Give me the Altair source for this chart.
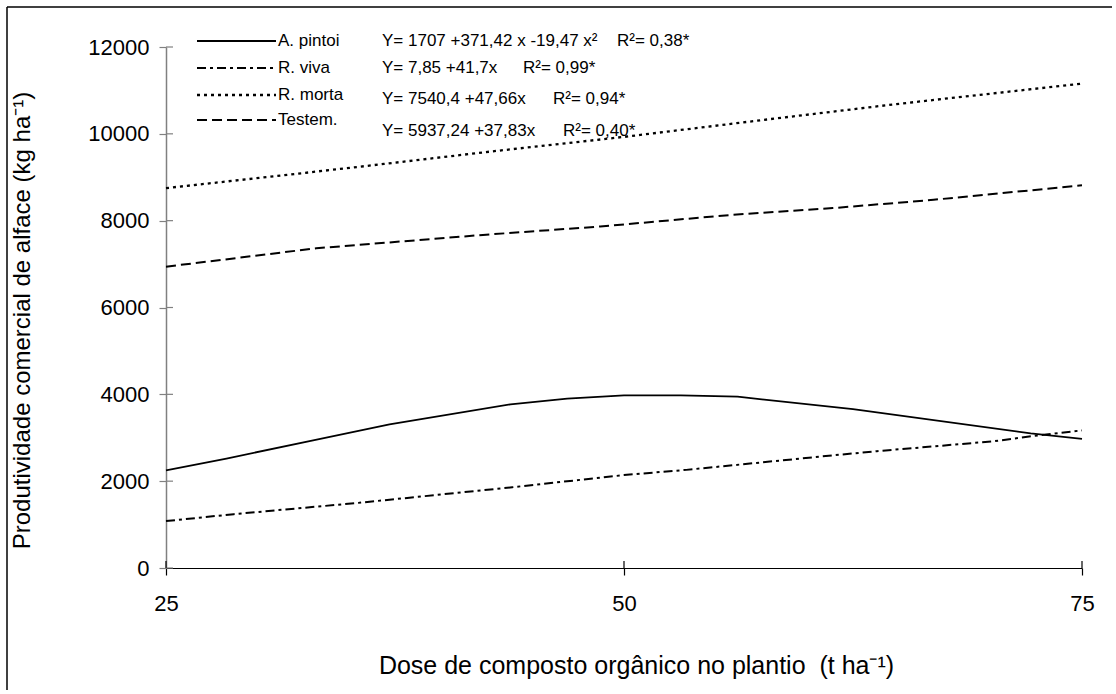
import altair as alt
import pandas as pd

# ---- data ----
dose_pintoi = [25, 28.3, 32.9, 37.2, 43.8, 46.9, 50, 53.1, 56.2, 62.5, 72.2, 75]
prod_pintoi = [2250, 2520, 2930, 3310, 3770, 3900, 3975, 3975, 3945, 3660, 3100, 2975]

dose_viva = [25, 28.7, 35.5, 39.7, 43.9, 50, 53.4, 60.8, 63.8, 70.2, 72.7, 75]
prod_viva = [1080, 1240, 1500, 1680, 1860, 2140, 2260, 2570, 2690, 2920, 3060, 3170]

dose_morta = [25, 31.4, 36.9, 42.4, 50, 57.8, 64.7, 70.5, 75]
prod_morta = [8750, 9045, 9306, 9577, 9930, 10330, 10677, 10948, 11156]

dose_testem = [25, 33.2, 42.3, 48.7, 55.9, 61.4, 66.9, 75]
prod_testem = [6940, 7364, 7672, 7866, 8134, 8289, 8481, 8814]

x_ticks = [25, 50, 75]
y_ticks = [0, 2000, 4000, 6000, 8000, 10000, 12000]

series_names = ["A. pintoi", "R. viva", "R. morta", "Testem."]
equations = ["Y= 1707 +371,42 x -19,47 x²", "Y= 7,85 +41,7x",
             "Y= 7540,4 +47,66x", "Y= 5937,24 +37,83x"]
r2_texts = ["R²= 0,38*", "R²= 0,99*", "R²= 0,94*", "R²= 0,40*"]

FONT = "Liberation Sans"
W, H = 916, 521

xs = alt.Scale(domain=[25, 75], nice=False, zero=False)
ys = alt.Scale(domain=[0, 12000], nice=False)

dashes = [None, [9, 4, 3, 4], [3, 4], [10, 5]]
widths = [1.8, 2.0, 2.3, 2.0]
series_data = [(dose_pintoi, prod_pintoi), (dose_viva, prod_viva),
               (dose_morta, prod_morta), (dose_testem, prod_testem)]

layers = []
for i, (dx, py) in enumerate(series_data):
    df = pd.DataFrame({"dose": dx, "prod": py})
    kw = dict(color="black", strokeWidth=widths[i], clip=False)
    if dashes[i]:
        kw["strokeDash"] = dashes[i]
    enc_x = alt.X("dose:Q", scale=xs)
    enc_y = alt.Y("prod:Q", scale=ys)
    if i == 0:
        enc_x = alt.X("dose:Q", scale=xs,
                      axis=alt.Axis(values=x_ticks, grid=False, domainColor="black",
                                    domainWidth=1.2, tickColor="black", tickSize=7,
                                    tickWidth=1.2, labelFont=FONT, labelFontSize=22,
                                    labelColor="black", labelPadding=18, labelFlush=False,
                                    labelOverlap=False,
                                    title="Dose de composto orgânico no plantio\u00a0 (t ha⁻¹)",
                                    titleFont=FONT, titleFontSize=25, titleFontWeight="normal",
                                    titleColor="black", titleX=470, titleY=97,
                                    titleBaseline="middle", titleAnchor="middle"))
        enc_y = alt.Y("prod:Q", scale=ys,
                      axis=alt.Axis(values=y_ticks, format="d", grid=False,
                                    domainColor="#808080", labelFlush=False,
                                    domainWidth=1.5, tickColor="#808080", tickSize=7,
                                    tickWidth=1.2, labelFont=FONT, labelFontSize=22,
                                    labelColor="black", labelPadding=10,
                                    title="Produtividade comercial de alface (kg ha⁻¹)",
                                    titleFont=FONT, titleFontSize=24, titleFontWeight="normal",
                                    titleColor="black", titleX=-144, titleY=273,
                                    titleAngle=-90, titleBaseline="middle",
                                    titleAlign="center"))
    layers.append(alt.Chart(df).mark_line(**kw).encode(x=enc_x, y=enc_y))

# inward halves of the crossing ticks
ydf = pd.DataFrame({"v": y_ticks})
layers.append(alt.Chart(ydf).mark_rule(color="#808080", strokeWidth=1.2).encode(
    y=alt.Y("v:Q", scale=ys), x=alt.value(0), x2=alt.value(7)))
xdf = pd.DataFrame({"v": x_ticks})
layers.append(alt.Chart(xdf).mark_rule(color="black", strokeWidth=1.2).encode(
    x=alt.X("v:Q", scale=xs), y=alt.value(H), y2=alt.value(H - 7)))

# legend (manual)
name_y = [-6, 21, 48, 73]
eq_y = [-6, 21, 52, 84]
r2_x = [451, 357, 387, 397]
for i in range(4):
    kw = dict(color="black", strokeWidth=widths[i])
    if dashes[i]:
        kw["strokeDash"] = dashes[i]
    layers.append(alt.Chart(pd.DataFrame({"a": [0]})).mark_rule(**kw).encode(
        x=alt.value(31), x2=alt.value(110), y=alt.value(name_y[i])))
    layers.append(alt.Chart(pd.DataFrame({"t": [series_names[i]]})).mark_text(
        font=FONT, fontSize=17, align="left", baseline="middle", color="black").encode(
        text="t:N", x=alt.value(112), y=alt.value(name_y[i])))
    layers.append(alt.Chart(pd.DataFrame({"t": [equations[i]]})).mark_text(
        font=FONT, fontSize=17, align="left", baseline="middle", color="black").encode(
        text="t:N", x=alt.value(216), y=alt.value(eq_y[i])))
    layers.append(alt.Chart(pd.DataFrame({"t": [r2_texts[i]]})).mark_text(
        font=FONT, fontSize=17, align="left", baseline="middle", color="black").encode(
        text="t:N", x=alt.value(r2_x[i]), y=alt.value(eq_y[i])))

# outer frame (left and top edges visible)
layers.append(alt.Chart(pd.DataFrame({"a": [0]})).mark_rule(color="black", strokeWidth=1.5).encode(
    x=alt.value(-159), y=alt.value(-40), y2=alt.value(643)))
layers.append(alt.Chart(pd.DataFrame({"a": [0]})).mark_rule(color="black", strokeWidth=1.5).encode(
    x=alt.value(-159), x2=alt.value(946), y=alt.value(-40)))

chart = alt.layer(*layers).properties(
    width=W, height=H,
    padding={"left": 6, "top": 6, "right": 0, "bottom": 0},
    background="white",
).configure_view(stroke=None)

chart.save("out.html", embed_options={"renderer": "svg", "actions": False})
